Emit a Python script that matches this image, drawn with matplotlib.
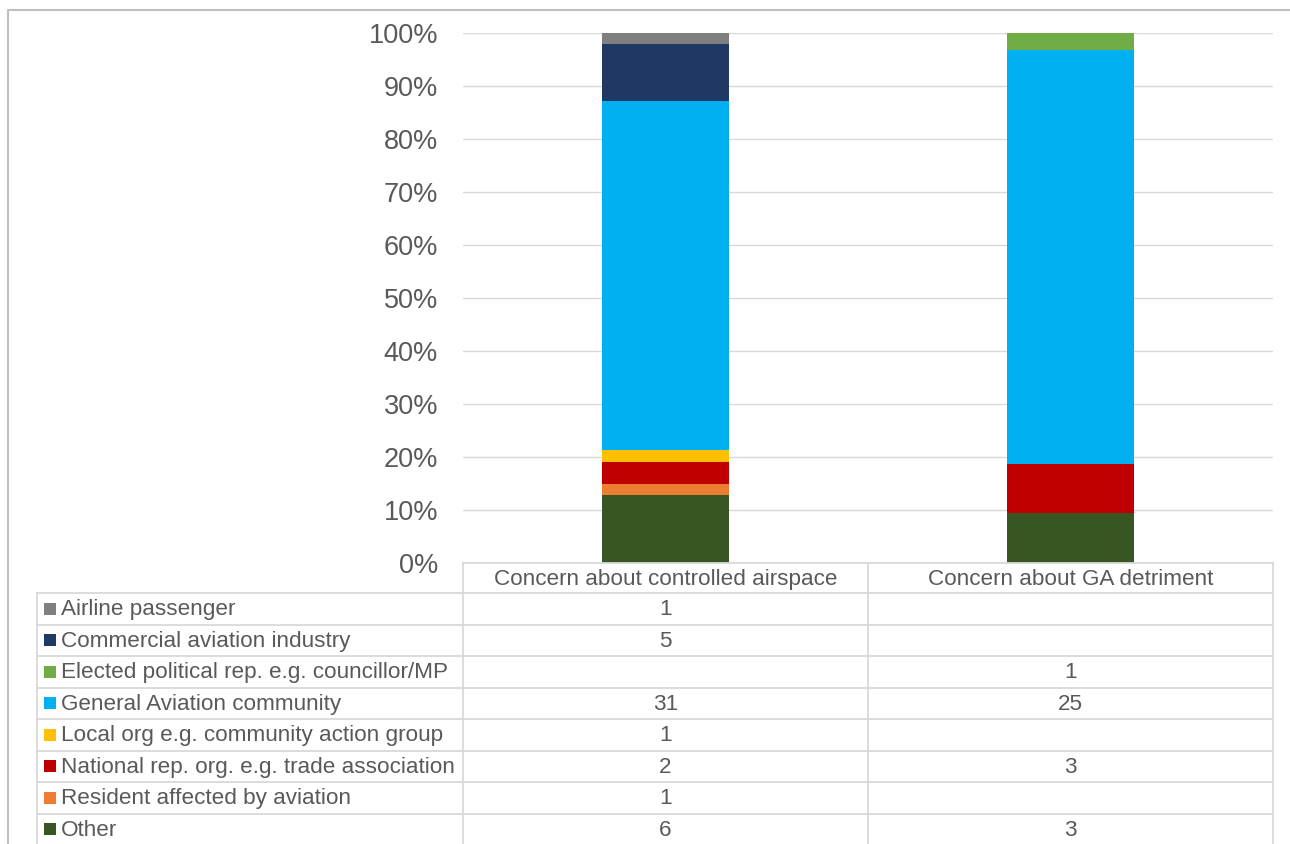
import matplotlib.pyplot as plt
from matplotlib.lines import Line2D
from matplotlib.patches import Rectangle
from matplotlib.ticker import PercentFormatter
import numpy as np

plt.rcParams["font.family"] = ["Liberation Sans", "DejaVu Sans"]

categories = ["Concern about controlled airspace", "Concern about GA detriment"]
# stacked bottom -> top
series = ["Other", "Resident affected by aviation",
          "National rep. org. e.g. trade association",
          "Local org e.g. community action group",
          "General Aviation community",
          "Elected political rep. e.g. councillor/MP",
          "Commercial aviation industry", "Airline passenger"]
controlled = [6, 1, 2, 1, 31, 0, 5, 1]
ga_detriment = [3, 0, 3, 0, 25, 1, 0, 0]
colors = ["#375623", "#ED7D31", "#C00000", "#FFC000", "#00B0F0",
          "#70AD47", "#203864", "#7F7F7F"]

W, H = 1290, 844
TXT = "#595959"
GRID = "#D9D9D9"
TAB_FS = 16.2

fig = plt.figure(figsize=(W / 100, H / 100), dpi=100)


def fx(px):
    return px / W


def fy(py):
    return 1 - py / H


ax_l, ax_r, ax_t, ax_b = 463, 1273, 33, 563
ax = fig.add_axes([fx(ax_l), fy(ax_b), fx(ax_r - ax_l), (ax_b - ax_t) / H])

counts = np.array([controlled, ga_detriment], dtype=float).T
shares = counts / counts.sum(axis=0) * 100
x = np.arange(len(categories))
bottom = np.zeros(len(categories))
for name, vals, c in zip(series, shares, colors):
    ax.bar(x, vals, bottom=bottom, width=0.316, color=c, zorder=3)
    bottom += vals

ax.set_xlim(-0.5, len(categories) - 0.5)
ax.set_ylim(0, 100)
ax.set_yticks(np.arange(0, 101, 10))
ax.yaxis.set_major_formatter(PercentFormatter(decimals=0))
ax.tick_params(axis="y", length=0, pad=18, labelsize=19.5, labelcolor=TXT)
ax.set_xticks([])
ax.grid(axis="y", color=GRID, linewidth=1.0, zorder=0)
for s in ax.spines.values():
    s.set_visible(False)

# data table underneath
row_top = 593
row_h = 31.5
tab_l = 37
col_edges = [ax_l, 868, ax_r]
lines = []
lines.append(([ax_l, ax_r], [563, 563]))
for i in range(len(series) + 1):
    y = row_top + i * row_h
    lines.append(([tab_l, ax_r], [y, y]))
lines.append(([tab_l, tab_l], [row_top, H]))
for xe in col_edges:
    lines.append(([xe, xe], [563, H]))
for xs, ys in lines:
    fig.add_artist(Line2D([fx(v) for v in xs], [fy(v) for v in ys],
                          color=GRID, linewidth=1.3))

for j, cat in enumerate(categories):
    xc = (col_edges[j] + col_edges[j + 1]) / 2
    fig.text(fx(xc), fy(579.5), cat, ha="center", va="center",
             fontsize=TAB_FS, color=TXT)

legend_order = list(reversed(range(len(series))))
for r, k in enumerate(legend_order):
    yc = row_top + (r + 0.5) * row_h
    fig.add_artist(Rectangle((fx(44), fy(yc + 6)), fx(12), 12 / H,
                             facecolor=colors[k], edgecolor="none"))
    fig.text(fx(61), fy(yc + 1), series[k], ha="left", va="center",
             fontsize=TAB_FS, color=TXT)
    for j, col in enumerate([controlled, ga_detriment]):
        v = col[k]
        if v:
            xc = (col_edges[j] + col_edges[j + 1]) / 2
            fig.text(fx(xc), fy(yc + 1), str(v), ha="center", va="center",
                     fontsize=TAB_FS, color=TXT)

# chart-area border (cropped on right/bottom)
fig.add_artist(Line2D([fx(8), fx(8), 1.0], [0.0, fy(10), fy(10)],
                      color="#BFBFBF", linewidth=1.5))

fig.savefig("out.png", dpi=100)
